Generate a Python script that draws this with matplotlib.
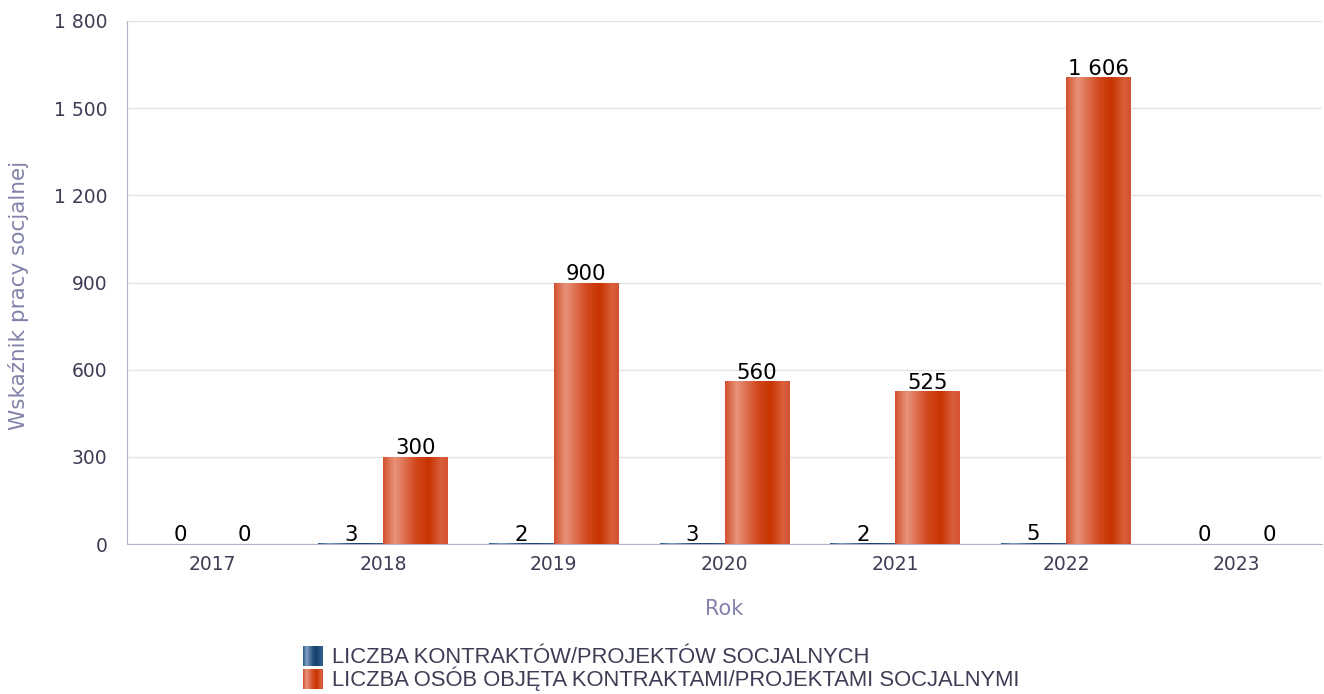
import numpy as np
import matplotlib.pyplot as plt
from matplotlib.colors import LinearSegmentedColormap
from matplotlib.legend_handler import HandlerBase
from matplotlib.patches import Rectangle

years = ['2017', '2018', '2019', '2020', '2021', '2022', '2023']
contracts = [0, 3, 2, 3, 2, 5, 0]
persons = [0, 300, 900, 560, 525, 1606, 0]
series_names = ['LICZBA KONTRAKTÓW/PROJEKTÓW SOCJALNYCH',
                'LICZBA OSÓB OBJĘTA KONTRAKTAMI/PROJEKTAMI SOCJALNYMI']

#  Horizontal gradients used to mimic the shaded bars
orange_cmap = LinearSegmentedColormap.from_list('orange', [
    (0.0, '#d35030'), (0.18, '#e8937b'), (0.5, '#d2491f'),
    (0.7, '#c83300'), (0.9, '#d8603c'), (1.0, '#d35030')])
blue_cmap = LinearSegmentedColormap.from_list('blue', [
    (0.0, '#2c5a88'), (0.18, '#7f9fc0'), (0.5, '#24507e'),
    (0.7, '#173f6a'), (0.9, '#2f5d8a'), (1.0, '#2b5986')])
grad = np.linspace(0, 1, 256).reshape(1, -1)

def fmt(v):
    return f'{v:,}'.replace(',', ' ')

class GradientHandler(HandlerBase):
    def __init__(self, cmap):
        super().__init__()
        self.cmap = cmap

    def create_artists(self, legend, orig_handle, xdescent, ydescent,
                       width, height, fontsize, trans):
        n = 20
        side = 20 * 72 / 100
        x0 = -xdescent
        y0 = -ydescent - (side - height) / 2
        artists = []
        for i in range(n):
            r = Rectangle((x0 + i * side / n, y0), side / n + 0.3, side,
                          facecolor=self.cmap((i + 0.5) / n),
                          edgecolor='none', transform=trans)
            artists.append(r)
        return artists

fig = plt.figure(figsize=(13.24, 6.94), dpi=100)
ax = fig.add_axes([127 / 1324, 150 / 694, 1195 / 1324, 523 / 694])

x = np.arange(len(years))
w = 0.38
b1 = ax.bar(x - w / 2, contracts, w, color='#24507e', zorder=2)
b2 = ax.bar(x + w / 2, persons, w, color='#d2491f', zorder=2)

for bars, cmap in [(b1, blue_cmap), (b2, orange_cmap)]:
    for r in bars:
        if r.get_height() <= 0:
            continue
        bx, by = r.get_x(), r.get_y()
        im = ax.imshow(grad, cmap=cmap, aspect='auto', zorder=3,
                       extent=[bx, bx + r.get_width(), by, by + r.get_height()])
        im.set_clip_path(r)

ax.bar_label(b1, labels=[fmt(v) for v in contracts], padding=-1,
             fontsize=15.3, color='black', zorder=4)
ax.bar_label(b2, labels=[fmt(v) for v in persons], padding=-1,
             fontsize=15.3, color='black', zorder=4)

ax.set_xlim(-0.5, len(years) - 0.5)
ax.set_ylim(0, 1800)
ax.set_yticks(range(0, 1801, 300))
ax.set_yticklabels([fmt(v) for v in range(0, 1801, 300)])
ax.set_xticks(x)
ax.set_xticklabels(years)
ax.tick_params(length=0, labelsize=13.5, colors='#3d3d55', pad=8)
ax.tick_params(axis='y', pad=14)
ax.grid(axis='y', color='#e4e4e4', linewidth=1, zorder=0)
ax.set_axisbelow(True)
for s in ['top', 'right']:
    ax.spines[s].set_visible(False)
for s in ['left', 'bottom']:
    ax.spines[s].set_color('#b4b4d0')

ax.set_ylabel('Wskaźnik pracy socjalnej', fontsize=15.5, color='#8282aa')
ax.yaxis.set_label_coords(-0.082, 0.476)
ax.set_xlabel('Rok', fontsize=15, color='#8282aa', labelpad=18)

leg = fig.legend([b1, b2], series_names, loc='lower left',
                 bbox_to_anchor=(294 / 1324, -6 / 694), frameon=False,
                 handler_map={b1: GradientHandler(blue_cmap),
                              b2: GradientHandler(orange_cmap)},
                 prop={'family': 'Liberation Sans', 'size': 15.8},
                 handlelength=0.9, handletextpad=0.45, labelspacing=-0.08,
                 borderaxespad=0.0)
for t in leg.get_texts():
    t.set_color('#3d3d55')

fig.savefig('out.png', dpi=100)
